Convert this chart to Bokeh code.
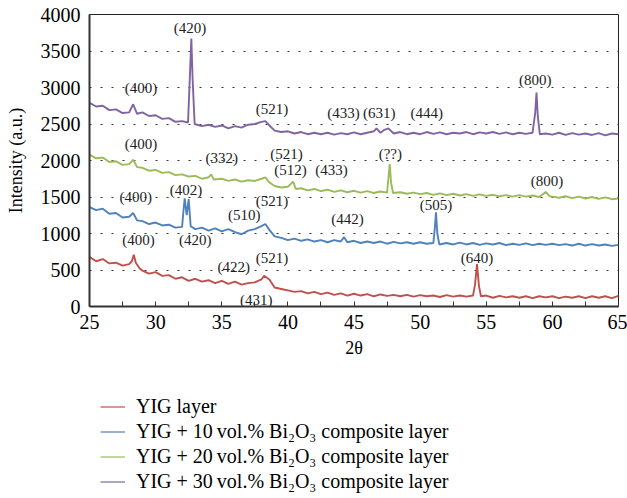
from bokeh.plotting import figure
from bokeh.models import Range1d, Legend, LegendItem, FixedTicker
from bokeh.layouts import column
from bokeh.embed import file_html
from bokeh.resources import INLINE
from bokeh.core.properties import value

FONT = "Liberation Serif"

# ---- data: (2theta, intensity) ----
yig = [(25, 680), (25.5, 620), (26, 650), (26.5, 590), (27, 600), (27.5, 560), (28, 580),
       (28.2, 620), (28.35, 710), (28.5, 600), (28.8, 520), (29, 490), (29.5, 450), (30, 470),
       (30.5, 420), (31, 430), (31.5, 380), (32, 400), (32.5, 350), (33, 380), (33.5, 340),
       (34, 360), (34.5, 320), (35, 350), (35.5, 310), (36, 340), (36.5, 300), (37, 320),
       (37.5, 330), (38, 370), (38.2, 420), (38.6, 370), (39, 260), (39.5, 240), (40, 220),
       (40.5, 200), (41, 210), (41.5, 180), (42, 200), (42.5, 170), (43, 190), (43.5, 160),
       (44, 180), (44.5, 150), (45, 175), (45.5, 150), (46, 170), (46.5, 140), (47, 165),
       (47.5, 145), (48, 160), (48.5, 140), (49, 160), (49.5, 135), (50, 155), (50.5, 140),
       (51, 150), (51.5, 130), (52, 155), (52.5, 135), (53, 150), (53.5, 135), (54, 150),
       (54.15, 300), (54.3, 580), (54.45, 280), (54.6, 140), (55, 150), (55.5, 120), (56, 145),
       (56.5, 125), (57, 140), (57.5, 120), (58, 140), (58.5, 115), (59, 140), (59.5, 125),
       (60, 140), (60.5, 115), (61, 135), (61.5, 120), (62, 140), (62.5, 115), (63, 140),
       (63.5, 120), (64, 140), (64.5, 115), (65, 145)]

bi10 = [(25, 1360), (25.5, 1320), (26, 1340), (26.5, 1270), (27, 1280), (27.5, 1220), (28, 1230),
        (28.3, 1280), (28.6, 1180), (29, 1170), (29.5, 1130), (30, 1150), (30.5, 1110), (31, 1120),
        (31.5, 1080), (32, 1090), (32.1, 1300), (32.2, 1480), (32.35, 1250), (32.5, 1470),
        (32.65, 1100), (33, 1060), (33.5, 1080), (34, 1040), (34.5, 1070), (35, 1030), (35.5, 1060),
        (36, 1020), (36.5, 990), (37, 1040), (37.5, 1060), (38, 1100), (38.3, 1130), (38.6, 1050),
        (39, 960), (39.5, 940), (40, 910), (40.5, 930), (41, 900), (41.5, 920), (42, 890),
        (42.5, 910), (43, 880), (43.5, 910), (44, 890), (44.25, 950), (44.5, 880), (45, 900),
        (45.5, 870), (46, 890), (46.5, 870), (47, 890), (47.5, 860), (48, 885), (48.5, 865),
        (49, 880), (49.5, 860), (50, 880), (50.5, 860), (51, 870), (51.1, 1050), (51.2, 1290),
        (51.3, 1000), (51.45, 850), (52, 870), (52.5, 850), (53, 875), (53.5, 850), (54, 870),
        (54.5, 845), (55, 865), (55.5, 850), (56, 870), (56.5, 840), (57, 860), (57.5, 845),
        (58, 865), (58.5, 840), (59, 860), (59.5, 845), (60, 860), (60.5, 840), (61, 855),
        (61.5, 835), (62, 860), (62.5, 835), (63, 855), (63.5, 835), (64, 850), (64.5, 830),
        (65, 845)]

bi20 = [(25, 2080), (25.5, 2030), (26, 2040), (26.5, 1980), (27, 1990), (27.5, 1940), (28, 1950),
        (28.3, 2010), (28.6, 1910), (29, 1900), (29.5, 1860), (30, 1870), (30.5, 1830), (31, 1840),
        (31.5, 1800), (32, 1810), (32.5, 1780), (33, 1790), (33.5, 1750), (34, 1770), (34.2, 1810),
        (34.4, 1740), (35, 1750), (35.5, 1720), (36, 1740), (36.5, 1710), (37, 1730), (37.5, 1720),
        (38, 1750), (38.3, 1770), (38.6, 1700), (39, 1650), (39.5, 1630), (40, 1640), (40.4, 1710),
        (40.6, 1610), (41, 1620), (41.5, 1590), (42, 1610), (42.5, 1580), (43, 1600), (43.5, 1570),
        (44, 1590), (44.5, 1565), (45, 1585), (45.5, 1560), (46, 1580), (46.5, 1555), (47, 1575),
        (47.5, 1560), (47.6, 1750), (47.7, 1950), (47.8, 1700), (47.95, 1555), (48.5, 1565),
        (49, 1545), (49.5, 1560), (50, 1540), (50.5, 1555), (51, 1530), (51.5, 1550), (52, 1525),
        (52.5, 1545), (53, 1520), (53.5, 1540), (54, 1515), (54.5, 1535), (55, 1515), (55.5, 1530),
        (56, 1510), (56.5, 1525), (57, 1505), (57.5, 1525), (58, 1505), (58.5, 1520), (59, 1500),
        (59.5, 1570), (59.8, 1510), (60, 1505), (60.5, 1490), (61, 1510), (61.5, 1485), (62, 1505),
        (62.5, 1480), (63, 1500), (63.5, 1475), (64, 1495), (64.5, 1470), (65, 1480)]

bi30 = [(25, 2790), (25.5, 2740), (26, 2750), (26.5, 2690), (27, 2700), (27.5, 2650), (28, 2660),
        (28.3, 2770), (28.6, 2640), (29, 2660), (29.5, 2610), (30, 2620), (30.5, 2570), (31, 2580),
        (31.5, 2530), (32, 2540), (32.45, 2520), (32.6, 3200), (32.7, 3670), (32.8, 3100),
        (32.95, 2500), (33.5, 2470), (34, 2490), (34.5, 2460), (35, 2480), (35.5, 2440), (36, 2470),
        (36.5, 2450), (37, 2490), (37.5, 2500), (38, 2530), (38.3, 2540), (38.6, 2480), (39, 2410),
        (39.5, 2390), (40, 2400), (40.5, 2370), (41, 2390), (41.5, 2360), (42, 2380), (42.5, 2360),
        (43, 2380), (43.5, 2355), (44, 2375), (44.5, 2360), (45, 2385), (45.5, 2360), (46, 2380),
        (46.5, 2400), (46.7, 2440), (47, 2380), (47.3, 2420), (47.6, 2440), (48, 2370),
        (48.5, 2390), (49, 2360), (49.5, 2380), (50, 2360), (50.5, 2390), (51, 2365), (51.5, 2385),
        (52, 2360), (52.5, 2380), (53, 2370), (53.5, 2390), (54, 2360), (54.5, 2385), (55, 2370),
        (55.5, 2390), (56, 2365), (56.5, 2385), (57, 2360), (57.5, 2380), (58, 2365), (58.5, 2380),
        (58.7, 2650), (58.8, 2930), (58.9, 2600), (59.05, 2360), (59.5, 2370), (60, 2355),
        (60.5, 2380), (61, 2350), (61.5, 2375), (62, 2355), (62.5, 2370), (63, 2350), (63.5, 2375),
        (64, 2345), (64.5, 2370), (65, 2360)]

series_names = ["YIG layer",
                "YIG + 10\u2009vol.% Bi\u2082O\u2083 composite layer",
                "YIG + 20\u2009vol.% Bi\u2082O\u2083 composite layer",
                "YIG + 30\u2009vol.% Bi\u2082O\u2083 composite layer"]
series_colors = ["#C0504D", "#4F81BD", "#9BBB59", "#8064A2"]

# peak labels: (text, 2theta, intensity at label centre)
peak_labels = ["(420)", "(400)", "(521)", "(433)", "(631)", "(444)", "(800)",
               "(400)", "(332)", "(521)", "(512)", "(433)", "(??)", "(800)",
               "(400)", "(402)", "(420)", "(510)", "(521)", "(442)", "(505)",
               "(400)", "(422)", "(521)", "(431)", "(640)"]
peak_x = [32.6, 28.9, 38.8, 44.2, 46.9, 50.5, 58.7,
          28.9, 35.0, 39.9, 40.2, 43.3, 47.75, 59.6,
          28.5, 32.3, 33.0, 36.7, 38.8, 44.5, 51.2,
          28.7, 35.9, 38.8, 37.6, 54.3]
peak_y = [3810, 2990, 2700, 2645, 2645, 2645, 3100,
          2220, 2040, 2085, 1865, 1865, 2095, 1725,
          1495, 1600, 905, 1250, 1450, 1195, 1385,
          905, 535, 660, 95, 670]

x_ticks = [25, 30, 35, 40, 45, 50, 55, 60, 65]
x_minor = [27.5, 32.5, 37.5, 42.5, 47.5, 52.5, 57.5, 62.5]
y_ticks = [0, 500, 1000, 1500, 2000, 2500, 3000, 3500, 4000]

p = figure(width=627, height=362, output_backend="svg", toolbar_location=None,
           x_range=Range1d(25, 65), y_range=Range1d(0, 4000),
           min_border_left=89, min_border_right=9, min_border_top=14, min_border_bottom=56)
p.background_fill_color = "white"
p.border_fill_color = "white"
p.outline_line_color = "#222222"
p.outline_line_width = 1

renderers = []
for data, col in zip([yig, bi10, bi20, bi30], series_colors):
    xs = [d[0] for d in data]
    ys = [d[1] for d in data]
    r = p.line(xs, ys, line_color=col, line_width=1.9)
    renderers.append(r)

p.text(x=peak_x, y=peak_y, text=peak_labels, text_font=value(FONT), text_font_size="15px",
       text_align="center", text_baseline="middle", text_color="#222222")

# axes
p.xaxis.ticker = FixedTicker(ticks=x_ticks, minor_ticks=x_minor)
p.yaxis.ticker = FixedTicker(ticks=y_ticks)
for ax in (p.xaxis, p.yaxis):
    ax.axis_line_color = "#333333"
    ax.axis_line_width = 2
    ax.major_label_text_font = FONT
    ax.major_label_text_font_size = "20px"
    ax.major_label_text_color = "black"
    ax.axis_label_text_font = FONT
    ax.axis_label_text_font_size = "18px"
    ax.axis_label_text_font_style = "normal"
    ax.axis_label_text_color = "black"
p.xaxis.major_tick_in = 5
p.xaxis.major_tick_out = 0
p.xaxis.minor_tick_in = 5
p.xaxis.minor_tick_out = 0
p.xaxis.major_tick_line_color = "#333333"
p.xaxis.minor_tick_line_color = "#333333"
p.xaxis.major_label_standoff = 8
p.xaxis.axis_label = "2\u03b8"
p.xaxis.axis_label_standoff = 6
p.yaxis.major_tick_line_color = None
p.yaxis.minor_tick_line_color = None
p.yaxis.major_tick_in = 0
p.yaxis.major_tick_out = 0
p.yaxis.major_label_standoff = 9
p.yaxis.axis_label = "Intensity (a.u.)"
p.yaxis.axis_label_standoff = 12

p.xgrid.visible = False
p.ygrid.grid_line_color = "#333333"
p.ygrid.grid_line_dash = "2 9"
p.ygrid.grid_line_width = 1

# legend panel below the chart (its frame is aligned with the chart frame)
pl = figure(width=627, height=136, output_backend="svg", toolbar_location=None,
            x_axis_location=None, y_axis_location=None,
            min_border_left=0, min_border_right=0, min_border_top=0, min_border_bottom=0)
pl.outline_line_color = None
pl.grid.visible = False
leg_renderers = [pl.line(x=[0], y=[0], line_color=c, line_width=1.2) for c in series_colors]
items = [LegendItem(label=n, renderers=[r]) for n, r in zip(series_names, leg_renderers)]
legend = Legend(items=items, location=(11, 4), orientation="vertical",
                label_text_font=FONT, label_text_font_size="20px", label_text_color="black",
                glyph_width=25, glyph_height=25, label_height=25, label_standoff=11,
                spacing=0, padding=0, margin=0,
                border_line_color=None, background_fill_alpha=0)
pl.add_layout(legend, "center")

open("out.html", "w").write(file_html(column(p, pl, spacing=0), INLINE))
